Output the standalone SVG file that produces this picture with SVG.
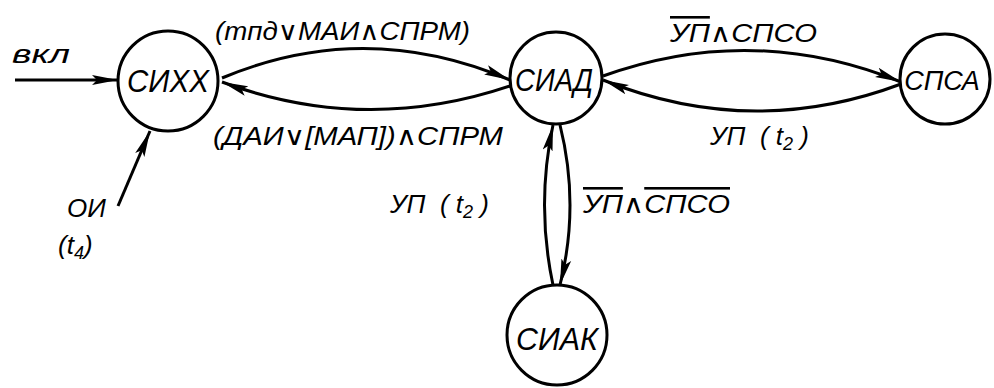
<svg xmlns="http://www.w3.org/2000/svg" width="994" height="388" viewBox="0 0 994 388">
<style>
.n{fill:#fff;stroke:#000;stroke-width:3}
.c{fill:none;stroke:#000;stroke-width:3}
text{font-family:"Liberation Sans","DejaVu Sans",sans-serif;font-style:italic;fill:#000}
.nt{font-size:32px;text-anchor:middle}
.l{font-size:26px}
.ol{text-decoration:overline}
</style>
<defs>
<marker id="a" markerUnits="userSpaceOnUse" markerWidth="26" markerHeight="12" refX="26" refY="6" orient="auto">
<path d="M0,1 L26,6 L0,11 L5,6 z" fill="#000"/>
</marker>
</defs>
<g id="connectors">
<path class="c" d="M15,80 L118,80" marker-end="url(#a)"/>
<path class="c" d="M118,206 L150,131" marker-end="url(#a)"/>
<path class="c" d="M222,78 Q365,18 510,80" marker-end="url(#a)"/>
<path class="c" d="M510,86 Q365,135 222,82" marker-end="url(#a)"/>
<path class="c" d="M603,76 Q752,22 901,82" marker-end="url(#a)"/>
<path class="c" d="M901,84 Q752,140 603,80" marker-end="url(#a)"/>
<path class="c" d="M553,285 Q536,205 553,125" marker-end="url(#a)"/>
<path class="c" d="M560,125 Q580,205 560,285" marker-end="url(#a)"/>
</g>
<g id="labels">
<text class="l" x="12" y="63" textLength="58" lengthAdjust="spacingAndGlyphs">вкл</text>
<text class="l" x="215" y="40" textLength="255" lengthAdjust="spacingAndGlyphs">(mпд∨МАИ∧СПРМ)</text>
<text class="l" x="213" y="145" textLength="290" lengthAdjust="spacingAndGlyphs">(ДАИ∨[МАП])∧СПРМ</text>
<text class="l" x="670" y="42" textLength="147" lengthAdjust="spacingAndGlyphs"><tspan class="ol">УП</tspan>∧СПСО</text>
<text class="l" x="710" y="145" xml:space="preserve">УП  ( t<tspan font-size="18" dy="5">2</tspan><tspan dy="-5"> )</tspan></text>
<text class="l" x="390" y="213" xml:space="preserve">УП  ( t<tspan font-size="18" dy="5">2</tspan><tspan dy="-5"> )</tspan></text>
<text class="l" x="583" y="213" textLength="147" lengthAdjust="spacingAndGlyphs"><tspan class="ol">УП</tspan>∧<tspan class="ol">СПСО</tspan></text>
<text class="l" x="67" y="217">ОИ</text>
<text class="l" x="58" y="254">(t<tspan font-size="18" dy="5">4</tspan><tspan dy="-5">)</tspan></text>
</g>
<g id="СИХХ"><circle class="n" cx="168" cy="81" r="50"/><text class="nt" x="168" y="92" textLength="82" lengthAdjust="spacingAndGlyphs">СИХХ</text></g>
<g id="СИАД"><circle class="n" cx="556" cy="78" r="46"/><text class="nt" x="554" y="91" textLength="78" lengthAdjust="spacingAndGlyphs">СИАД</text></g>
<g id="СПСА"><circle class="n" cx="945" cy="79" r="45"/><text x="942" y="90" font-size="27" text-anchor="middle">СПСА</text></g>
<g id="СИАК"><circle class="n" cx="557" cy="335" r="50"/><text class="nt" x="557" y="350" textLength="82" lengthAdjust="spacingAndGlyphs">СИАК</text></g>
</svg>
